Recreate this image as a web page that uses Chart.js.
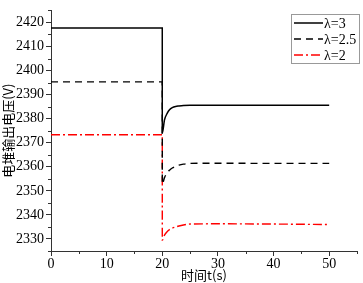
<!DOCTYPE html>
<html>
<head>
<meta charset="utf-8">
<script src="https://cdn.jsdelivr.net/npm/chart.js@4/dist/chart.umd.min.js"></script>
<style>
html,body{margin:0;padding:0;background:#fff;}
#wrap{width:363px;height:283px;position:relative;}
</style>
</head>
<body>
<div id="wrap"><canvas id="c" width="363" height="283"></canvas></div>
<script>
const seriesNames = ['λ=3', 'λ=2.5', 'λ=2'];
const timeS = [0, 20, 20, 20.4, 20.9, 21.3, 21.8, 22.4, 23, 23.8, 25, 30, 40, 50];
const lambda3 = [2417.7, 2417.7, 2374, 2379.5, 2382.3, 2383.7, 2384.6, 2385.1, 2385.3, 2385.5, 2385.6, 2385.6, 2385.6, 2385.6];
const lambda25 = [2395.3, 2395.3, 2352.8, 2355.5, 2357.6, 2358.6, 2359.5, 2360.2, 2360.7, 2361.1, 2361.4, 2361.5, 2361.4, 2361.4];
const lambda2 = [2373.3, 2373.3, 2329.5, 2331.6, 2333.1, 2333.9, 2334.5, 2335.0, 2335.4, 2335.8, 2336.2, 2336.3, 2336.2, 2336.0];
const xTicks = [0, 10, 20, 30, 40, 50];
const yTicks = [2330, 2340, 2350, 2360, 2370, 2380, 2390, 2400, 2410, 2420];

const toPts = arr => timeS.map((t, i) => ({x: t, y: arr[i]}));
const styles = [
  {color: '#000000', dash: [], width: 1.5},
  {color: '#000000', dash: [7, 5], width: 1.4},
  {color: '#ff0000', dash: [9, 3, 2, 3], width: 1.4}
];
const datasets = [lambda3, lambda25, lambda2].map((arr, i) => ({
  label: seriesNames[i],
  data: toPts(arr),
  borderColor: styles[i].color,
  borderDash: styles[i].dash,
  borderWidth: styles[i].width,
  pointRadius: 0,
  showLine: true,
  tension: 0.35,
  cubicInterpolationMode: 'monotone'
}));

const serif = 'Liberation Serif, Times New Roman, serif';

const extras = {
  id: 'extras',
  afterDraw(chart) {
    const ctx = chart.ctx;
    const xs = chart.scales.x, ys = chart.scales.y;
    ctx.save();
    ctx.strokeStyle = '#333';
    ctx.lineWidth = 1;
    // minor ticks
    for (let v = 5; v <= 55; v += 10) {
      const px = Math.round(xs.getPixelForValue(v)) + 0.5;
      ctx.beginPath(); ctx.moveTo(px, xs.top); ctx.lineTo(px, xs.top + 3); ctx.stroke();
    }
    for (let v = 2325; v <= 2425; v += 10) {
      const py = Math.round(ys.getPixelForValue(v)) + 0.5;
      ctx.beginPath(); ctx.moveTo(ys.right - 3, py); ctx.lineTo(ys.right, py); ctx.stroke();
    }
    // legend
    const lx = 291, ly = 14, lw = 68, lh = 49;
    ctx.strokeStyle = '#999';
    ctx.strokeRect(lx + 0.5, ly + 0.5, lw, lh);
    ctx.font = '14px ' + serif;
    ctx.textBaseline = 'middle';
    ctx.fillStyle = '#000';
    seriesNames.forEach((name, i) => {
      const y = ly + 9 + i * 16;
      ctx.strokeStyle = styles[i].color;
      ctx.lineWidth = styles[i].width;
      ctx.setLineDash(styles[i].dash);
      ctx.beginPath(); ctx.moveTo(lx + 3, y); ctx.lineTo(lx + 32, y); ctx.stroke();
      ctx.setLineDash([]);
      ctx.fillText(name, lx + 33, y + 1);
    });
    ctx.restore();
  }
};

new Chart(document.getElementById('c'), {
  type: 'scatter',
  data: {datasets},
  options: {
    responsive: false,
    animation: false,
    layout: {padding: {top: 6, right: 6, left: 0, bottom: 0}},
    plugins: {legend: {display: false}, tooltip: {enabled: false}},
    scales: {
      x: {
        type: 'linear', min: 0, max: 55,
        afterBuildTicks: s => { s.ticks = xTicks.map(v => ({value: v})); },
        afterFit: s => { s.height = 32; },
        border: {display: true, color: '#333', width: 1},
        grid: {drawOnChartArea: false, drawTicks: true, tickLength: 5, color: '#333'},
        ticks: {color: '#000', font: {family: serif, size: 14}, padding: 0, maxRotation: 0, callback: v => String(v)},
        title: {display: true, text: '时间t(s)', color: '#000', font: {family: 'Noto Sans CJK SC', size: 13}, padding: {top: -8, bottom: 0}}
      },
      y: {
        type: 'linear', min: 2325, max: 2425,
        afterBuildTicks: s => { s.ticks = yTicks.map(v => ({value: v})); },
        afterFit: s => { s.width = 51; },
        border: {display: true, color: '#333', width: 1},
        grid: {drawOnChartArea: false, drawTicks: true, tickLength: 5, color: '#333'},
        ticks: {color: '#000', font: {family: serif, size: 14}, padding: 2, callback: v => String(v)},
        title: {display: true, text: '电堆输出电压(V)', color: '#000', font: {family: 'Noto Sans CJK SC', size: 13}, padding: {top: 0, bottom: -6}}
      }
    }
  },
  plugins: [extras]
});
</script>
</body>
</html>
